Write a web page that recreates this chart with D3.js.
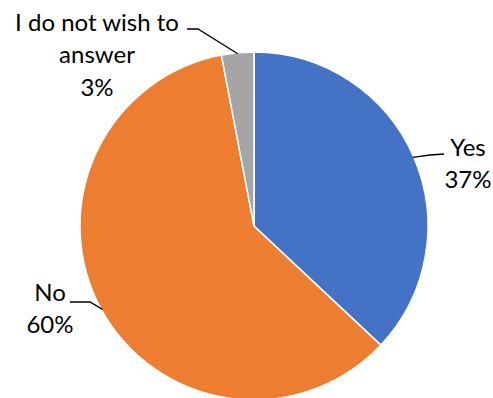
<!DOCTYPE html>
<html>
<head>
<meta charset="utf-8">
<script src="https://cdn.jsdelivr.net/npm/d3@7"></script>
<style>
  body { margin: 0; background: #fff; }
  text { font-family: Lato, "Open Sans", sans-serif; font-size: 24px; fill: #000; }
</style>
</head>
<body>
<svg class="chart" width="493" height="398"></svg>
<script>
const categories = ["Yes", "No", "I do not wish to answer"]
const values = [37, 60, 3]
const colors = ["#4472C4", "#ED7D31", "#A5A5A5"]

// label lines (text) per slice
const labelLines = [["Yes", "37%"], ["No", "60%"], ["I do not wish to", "answer", "3%"]]

const svg = d3.select("svg.chart")
const cx = 254, cy = 226, radius = 174

const pie = d3.pie().sort(null).value(d => d)
const arcs = pie(values)

const arc = d3.arc().innerRadius(0).outerRadius(radius)
const edgeArc = d3.arc().innerRadius(radius - 1).outerRadius(radius - 1)

const g = svg.append("g").attr("transform", "translate(" + cx + "," + cy + ")")

g.selectAll("path")
    .data(arcs)
    .enter()
    .append("path")
    .attr("d", arc)
    .attr("fill", (d, i) => colors[i])
    .attr("stroke", "#fff")
    .attr("stroke-width", 1.5)

// where each label sits (absolute), and the elbow of its leader line
const labelPos = [
    { x: 468, y: 156, elbow: [444, 154], end: [430, 155] },
    { x: 50, y: 301, elbow: [70, 302], end: [90, 302] },
    { x: 97, y: 31, elbow: [187, 29], end: [198, 29] }
]

arcs.forEach((d, i) => {
    const c = edgeArc.centroid(d)
    const p = labelPos[i]
    svg.append("polyline")
        .attr("points", [[cx + c[0], cy + c[1]], p.end, p.elbow].map(q => q.join(",")).join(" "))
        .attr("fill", "none")
        .attr("stroke", "#000")
        .attr("stroke-width", 1.3)

    const t = svg.append("text")
        .attr("text-anchor", "middle")
        .attr("x", p.x)
        .attr("y", p.y)
    labelLines[i].forEach((line, j) => {
        t.append("tspan")
            .attr("x", p.x)
            .attr("y", p.y + j * 32.3)
            .text(line)
    })
})
</script>
</body>
</html>
